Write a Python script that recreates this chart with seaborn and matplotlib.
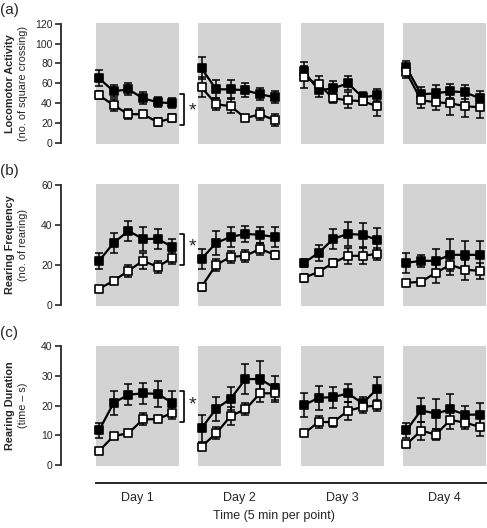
import numpy as np
import pandas as pd
import matplotlib
matplotlib.use("Agg")
import matplotlib.pyplot as plt
import seaborn as sns

# 4 days x 6 time points (5 min each)
days = ["Day 1", "Day 2", "Day 3", "Day 4"]
n_pts = 6

# (a) locomotor activity
loco_filled = [65, 52, 54, 45, 41, 40,   75, 54, 54, 53, 49, 46,   72, 53, 55, 60, 46, 48,   76, 49, 50, 52, 51, 45]
loco_filled_err = [8, 6, 6, 6, 5, 5,   11, 9, 9, 7, 6, 6,   9, 7, 7, 7, 5, 6,   6, 7, 8, 7, 7, 7]
loco_open = [48, 38, 29, 29, 21, 25,   56, 39, 37, 25, 29, 23,   66, 59, 45, 43, 42, 37,   71, 43, 41, 40, 37, 36]
loco_open_err = [4, 6, 5, 3, 4, 4,   10, 6, 7, 3, 6, 6,   11, 8, 5, 8, 4, 10,   6, 8, 8, 12, 11, 11]

# (b) rearing frequency
rear_filled = [22, 31, 37, 33, 33, 29,   23, 31, 34, 35.5, 35, 34,   21, 26, 33, 35.5, 35, 32.5,   21, 22, 22, 25, 25, 25]
rear_filled_err = [4, 5, 5, 6, 5, 4,   5, 6, 5, 4, 4, 5,   2, 4, 5, 6, 6, 6,   5, 3, 6, 8, 7, 7]
rear_open = [8, 12, 17, 22, 19, 23.5,   9, 20, 24, 24.5, 28, 25,   13.5, 16.5, 21, 24.5, 24.5, 25.5,   11, 11.5, 16, 20, 17.5, 17]
rear_open_err = [1, 1, 3, 4, 3, 3,   2, 3, 3, 3, 3, 2,   2, 2, 2, 4, 4, 3,   1, 1, 5, 5, 5, 4]

# (c) rearing duration
dur_filled = [11.7, 21, 23.7, 24.2, 24, 21,   12.4, 19, 22.4, 29, 29, 26,   20.2, 22.7, 22.9, 24.2, 20.8, 25.7,   11.7, 18.5, 17.3, 18.8, 17, 17]
dur_filled_err = [2.5, 4, 3.5, 3.5, 4.5, 4,   4.5, 4, 4, 5, 6, 4,   4, 4, 3.5, 3, 2, 4,   2.5, 4, 5, 5, 3, 4]
dur_open = [4.8, 9.8, 10.7, 15.4, 15.5, 17.6,   6.2, 10.7, 16.6, 18.8, 24.2, 24.2,   10.7, 14.5, 14.5, 18.3, 19.6, 20.1,   7, 11.6, 10.3, 15.2, 14.3, 12.9]
dur_open_err = [1, 1, 1, 2, 1, 2,   1, 2, 3, 2, 3, 3,   1, 2, 1.5, 3, 2, 2,   1, 3, 2, 3, 2, 3]

panels = [
    ("(a)", "Locomotor Activity", "(no. of square crossing)", 120, 20,
     loco_filled, loco_filled_err, loco_open, loco_open_err, (18.4, 49.4), 32.7),
    ("(b)", "Rearing Frequency", "(no. of rearing)", 60, 20,
     rear_filled, rear_filled_err, rear_open, rear_open_err, (20, 35.4), 28.7),
    ("(c)", "Rearing Duration", "(time \u2013 s)", 40, 10,
     dur_filled, dur_filled_err, dur_open, dur_open_err, (14.6, 24.9), 20.2),
]

sns.set_style("white")
plt.rcParams['font.family'] = ['Liberation Sans', 'DejaVu Sans']

fig = plt.figure(figsize=(4.87, 5.28), dpi=100)
W, H = 487, 528
# (top, bottom) of each panel in pixels
rows = [(22.7, 144), (184, 305.7), (345.5, 466)]
x_left_px, x_right_px = 61, 487

gap = 7  # x units between first points of consecutive days
xpos = [d * gap + i for d in range(len(days)) for i in range(n_pts)]
day_idx = [d for d in range(len(days)) for i in range(n_pts)]
xlim = (-2.6, 26.5)
gray = "#d3d3d3"

axes = []
for r, (lab, ylab1, ylab2, ymax, ystep, f, fe, o, oe, brk, star) in enumerate(panels):
    top, bot = rows[r]
    ax = fig.add_axes([x_left_px / W, 1 - bot / H, (x_right_px - x_left_px) / W, (bot - top) / H])
    axes.append(ax)
    pad = ymax * 0.008
    ax.set_ylim(-pad, ymax + pad)
    ax.set_xlim(*xlim)
    for d in range(len(days)):
        ax.axvspan(d * gap - 0.22, d * gap + 5.44, color=gray, lw=0, zorder=0)

    df = pd.DataFrame({
        "x": xpos * 2,
        "val": list(f) + list(o),
        "err": list(fe) + list(oe),
        "group": ["filled"] * len(xpos) + ["open"] * len(xpos),
        "day": day_idx * 2,
    })
    sns.lineplot(data=df, x="x", y="val", hue="group", units="day", estimator=None,
                 palette={"filled": "black", "open": "black"}, lw=1.6,
                 legend=False, ax=ax, zorder=2)
    for g, face, z in [("filled", "black", 4), ("open", "white", 5)]:
        sub = df[df.group == g]
        ax.errorbar(sub.x, sub.val, yerr=sub.err, fmt="none", ecolor="black",
                    elinewidth=1.1, capsize=3, capthick=1.1, zorder=3)
        ax.scatter(sub.x, sub.val, marker="s", s=36, facecolor=face,
                   edgecolor="black", linewidths=1.2, zorder=z)

    # significance bracket
    bx0, bx1 = 5.53, 5.83
    ax.plot([bx0, bx1, bx1, bx0], [brk[1], brk[1], brk[0], brk[0]],
            color="black", lw=1.2, clip_on=False, zorder=6)
    ax.text(6.1, star, "*", ha="left", va="center", fontsize=14)

    # axes styling
    for s in ["top", "right", "bottom"]:
        ax.spines[s].set_visible(False)
    ax.spines["left"].set_bounds(0, ymax)
    ax.spines["left"].set_linewidth(1.3)
    ax.set_yticks(np.arange(0, ymax + 1, ystep))
    ax.tick_params(axis="y", direction="out", length=4.5, width=1.2, labelsize=7.5,
                   left=True, pad=1.5)
    ax.set_xlabel("")
    ax.set_ylabel("")
    ax.set_xticks([])

    yc = 1 - (top + bot) / 2 / H
    fig.text(10 / W, yc, ylab1, rotation=90, ha="center", va="center",
             fontsize=7.8, fontweight="bold")
    fig.text(23 / W, yc, ylab2, rotation=90, ha="center", va="center", fontsize=7.8)
    fig.text(0 / W, 1 - (top - 13) / H, lab, ha="left", va="center", fontsize=11)

# bottom time axis on last panel
ax = axes[-1]
ax.spines["bottom"].set_visible(True)
ax.spines["bottom"].set_position(("outward", 12))
ax.spines["bottom"].set_bounds(-0.22, 26.5)
ax.spines["bottom"].set_linewidth(1.4)
ax.set_xticks([d * gap + 2.6 for d in range(len(days))])
ax.set_xticklabels(days)
ax.tick_params(axis="x", length=0, labelsize=9, pad=7, bottom=True)
ax.set_xlabel("Time (5 min per point)", fontsize=9, labelpad=4)

fig.savefig("out.png", dpi=100)
